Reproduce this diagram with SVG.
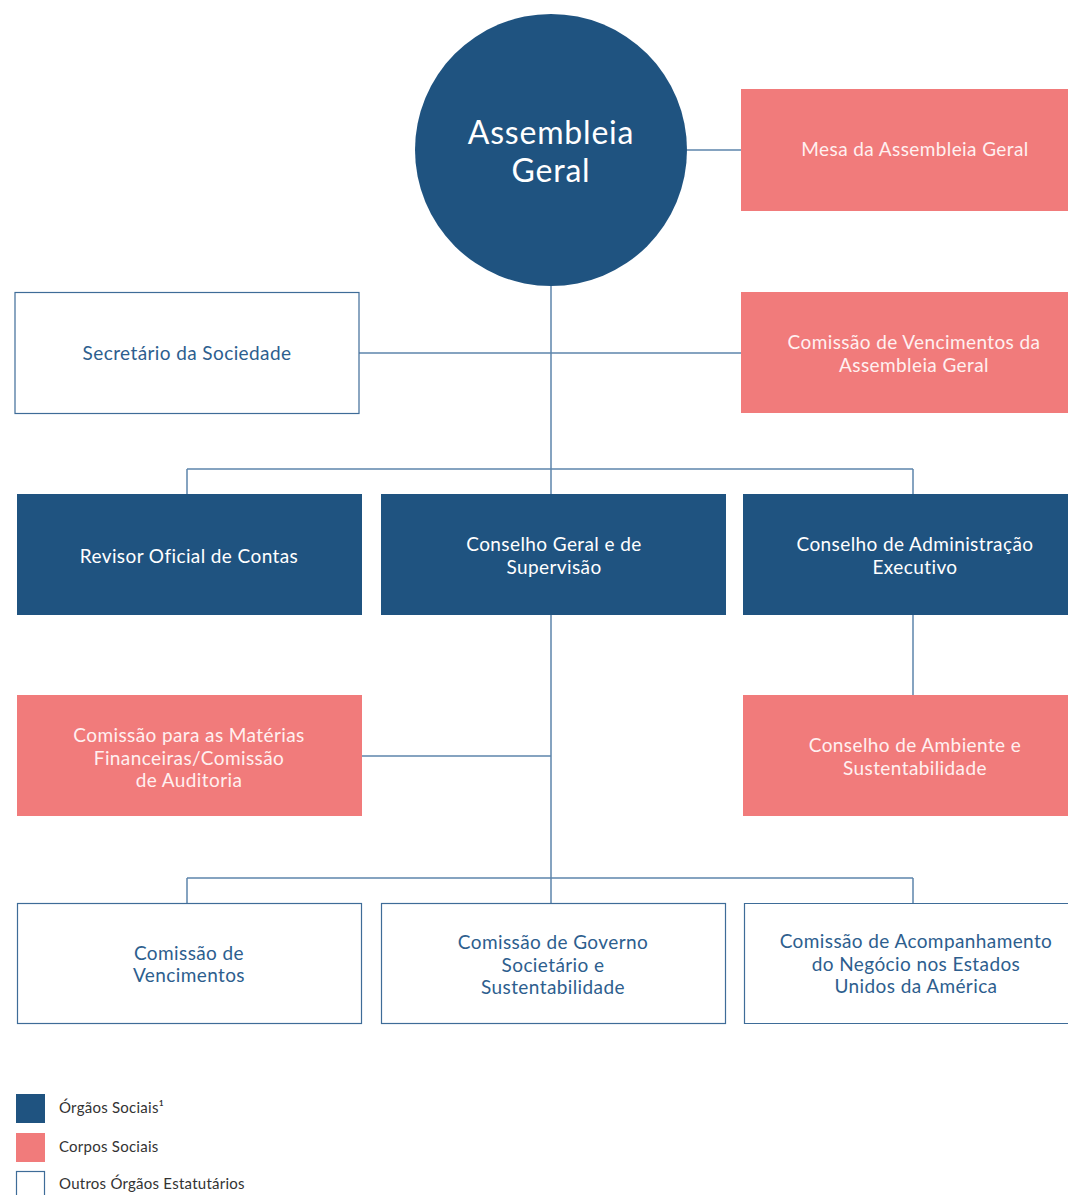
<svg xmlns="http://www.w3.org/2000/svg" width="1068" height="1195" viewBox="0 0 1068 1195">
<style>
text{font-family:"Lato","Open Sans","Noto Sans",sans-serif;text-anchor:middle;}
.dark{fill:#1f5380;}
.pink{fill:#f17b7b;}
.out{fill:#ffffff;stroke:#3e6c98;stroke-width:1.2;}
.tw,.tp,.to{font-size:19px;letter-spacing:0.4px;}
.tw{fill:#ffffff;}
.tp{fill:#fff0f0;}
.to{fill:#2d5e8e;}
.big{fill:#ffffff;font-size:32px;letter-spacing:0.8px;}
.conn line{stroke:#5d84ab;stroke-width:1.5;}
.leg{fill:#333333;font-size:15px;letter-spacing:0.25px;text-anchor:start;}
</style>
<rect width="1068" height="1195" fill="#ffffff"/>
<g class="conn" id="connectors">
<line x1="687" y1="150" x2="741" y2="150"/>
<line x1="551" y1="286" x2="551" y2="903"/>
<line x1="359" y1="353" x2="741" y2="353"/>
<line x1="187" y1="469" x2="913" y2="469"/>
<line x1="187" y1="469" x2="187" y2="494"/>
<line x1="913" y1="469" x2="913" y2="494"/>
<line x1="913" y1="615" x2="913" y2="695"/>
<line x1="362" y1="756" x2="551" y2="756"/>
<line x1="187" y1="878" x2="913" y2="878"/>
<line x1="187" y1="878" x2="187" y2="903"/>
<line x1="913" y1="878" x2="913" y2="903"/>
</g>
<g id="assembleia">
<circle cx="551" cy="150" r="136" class="dark"/>
<text x="551" y="144" class="big">Assembleia</text>
<text x="551" y="182" class="big">Geral</text>
</g>
<g id="mesa">
<rect x="741" y="89" width="327" height="122" class="pink"/>
<text x="915" y="156" class="tp">Mesa da Assembleia Geral</text>
</g>
<g id="secretario">
<rect x="15" y="292.5" width="344" height="121" class="out"/>
<text x="187" y="360" class="to">Secretário da Sociedade</text>
</g>
<g id="comissao-venc-ag">
<rect x="741" y="292" width="327" height="121" class="pink"/>
<text x="914" y="349" class="tp">Comissão de Vencimentos da</text>
<text x="914" y="372" class="tp">Assembleia Geral</text>
</g>
<g id="revisor">
<rect x="17" y="494" width="345" height="121" class="dark"/>
<text x="189" y="563" class="tw">Revisor Oficial de Contas</text>
</g>
<g id="cgs">
<rect x="381" y="494" width="345" height="121" class="dark"/>
<text x="554" y="551" class="tw">Conselho Geral e de</text>
<text x="554" y="574" class="tw">Supervisão</text>
</g>
<g id="cae">
<rect x="743" y="494" width="325" height="121" class="dark"/>
<text x="915" y="551" class="tw">Conselho de Administração</text>
<text x="915" y="574" class="tw">Executivo</text>
</g>
<g id="cmf">
<rect x="17" y="695" width="345" height="121" class="pink"/>
<text x="189" y="742" class="tp">Comissão para as Matérias</text>
<text x="189" y="765" class="tp">Financeiras/Comissão</text>
<text x="189" y="787" class="tp">de Auditoria</text>
</g>
<g id="cas">
<rect x="743" y="695" width="325" height="121" class="pink"/>
<text x="915" y="752" class="tp">Conselho de Ambiente e</text>
<text x="915" y="775" class="tp">Sustentabilidade</text>
</g>
<g id="cv">
<rect x="17.5" y="903.5" width="344" height="120" class="out"/>
<text x="189" y="960" class="to">Comissão de</text>
<text x="189" y="982" class="to">Vencimentos</text>
</g>
<g id="cgss">
<rect x="381.5" y="903.5" width="344" height="120" class="out"/>
<text x="553" y="949" class="to">Comissão de Governo</text>
<text x="553" y="972" class="to">Societário e</text>
<text x="553" y="994" class="to">Sustentabilidade</text>
</g>
<g id="canea">
<path d="M1068 903.5 H744.5 V1023.5 H1068" class="out" fill="none"/>
<text x="916" y="948" class="to">Comissão de Acompanhamento</text>
<text x="916" y="971" class="to">do Negócio nos Estados</text>
<text x="916" y="993" class="to">Unidos da América</text>
</g>
<g id="legend">
<rect x="16" y="1094" width="29" height="29" class="dark"/>
<text x="59" y="1113" class="leg">Órgãos Sociais¹</text>
<rect x="16" y="1133" width="29" height="29" class="pink"/>
<text x="59" y="1152" class="leg">Corpos Sociais</text>
<rect x="16.5" y="1171.5" width="28" height="30" class="out"/>
<text x="59" y="1189" class="leg">Outros Órgãos Estatutários</text>
</g>
</svg>
